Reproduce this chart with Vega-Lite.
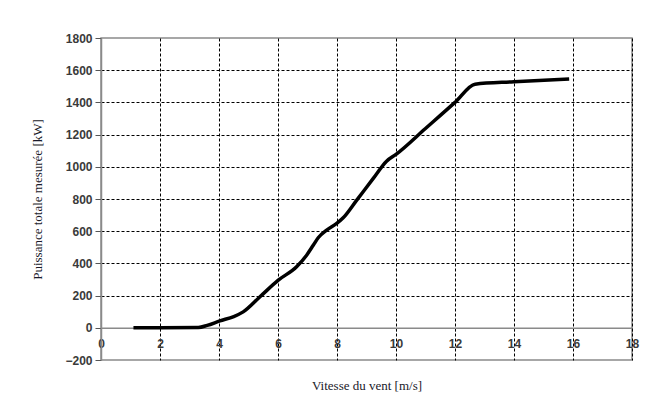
{
  "$schema": "https://vega.github.io/schema/vega-lite/v6.json",
  "width": 531,
  "height": 322,
  "autosize": {"type": "none"},
  "padding": {"left": 101, "top": 38, "right": 27, "bottom": 41},
  "background": "white",
  "config": {
    "view": {"stroke": "#8a8a8a", "strokeWidth": 1.5}
  },
  "data": {
    "values": [
      {"v": 1.1, "p": 0},
      {"v": 2.0, "p": 0},
      {"v": 3.3, "p": 2},
      {"v": 3.6, "p": 15},
      {"v": 4.03, "p": 43},
      {"v": 4.5, "p": 70},
      {"v": 4.82, "p": 99},
      {"v": 5.39, "p": 193},
      {"v": 6.01, "p": 296},
      {"v": 6.63, "p": 379},
      {"v": 6.97, "p": 451},
      {"v": 7.2, "p": 514},
      {"v": 7.37, "p": 561},
      {"v": 7.65, "p": 607},
      {"v": 7.99, "p": 648},
      {"v": 8.21, "p": 683},
      {"v": 8.67, "p": 793},
      {"v": 9.23, "p": 928},
      {"v": 9.68, "p": 1035},
      {"v": 10.0, "p": 1077},
      {"v": 11.0, "p": 1238},
      {"v": 12.0, "p": 1400},
      {"v": 12.68, "p": 1513},
      {"v": 14.0, "p": 1528},
      {"v": 15.87, "p": 1546}
    ]
  },
  "mark": {"type": "line", "color": "black", "strokeWidth": 3.5, "interpolate": "monotone"},
  "encoding": {
    "x": {
      "field": "v", "type": "quantitative",
      "scale": {"domain": [0, 18], "nice": false},
      "axis": {
        "title": "Vitesse du vent [m/s]",
        "values": [0, 2, 4, 6, 8, 10, 12, 14, 16, 18],
        "format": "d",
        "offset": -32.2,
        "domainColor": "#8a8a8a", "domainWidth": 1.5,
        "tickColor": "black", "tickSize": 5, "tickWidth": 1, "tickDash": [3, 2],
        "labelFont": "Liberation Sans", "labelFontSize": 12, "labelFontWeight": "bold", "labelColor": "#3a3a3a",
        "labelPadding": 6, "labelOverlap": false, "labelFlush": false,
        "titleFont": "Liberation Serif", "titleFontSize": 13, "titleFontWeight": "normal", "titleColor": "#1a1a2a",
        "titlePadding": 30,
        "grid": true, "gridColor": "black", "gridDash": [3, 2], "gridWidth": 1,
        "gridOpacity": {"condition": {"test": "datum.value === 0", "value": 0}, "value": 1}
      }
    },
    "y": {
      "field": "p", "type": "quantitative",
      "scale": {"domain": [-200, 1800], "nice": false, "zero": false},
      "axis": {
        "title": "Puissance totale mesurée [kW]",
        "values": [-200, 0, 200, 400, 600, 800, 1000, 1200, 1400, 1600, 1800],
        "format": "d",
        "domainColor": "#8a8a8a", "domainWidth": 1.5,
        "tickColor": "#555555", "tickSize": 6, "tickWidth": 1,
        "labelFont": "Liberation Sans", "labelFontSize": 12, "labelFontWeight": "bold", "labelColor": "#3a3a3a",
        "labelPadding": 3, "labelOverlap": false, "labelFlush": false,
        "titleFont": "Liberation Serif", "titleFontSize": 13, "titleFontWeight": "normal", "titleColor": "#1a1a2a",
        "titlePadding": 20,
        "grid": true, "gridColor": "black", "gridDash": [3, 2], "gridWidth": 1,
        "gridOpacity": {"condition": {"test": "datum.value === 0 || datum.value === -200 || datum.value === 1800", "value": 0}, "value": 1}
      }
    }
  }
}
